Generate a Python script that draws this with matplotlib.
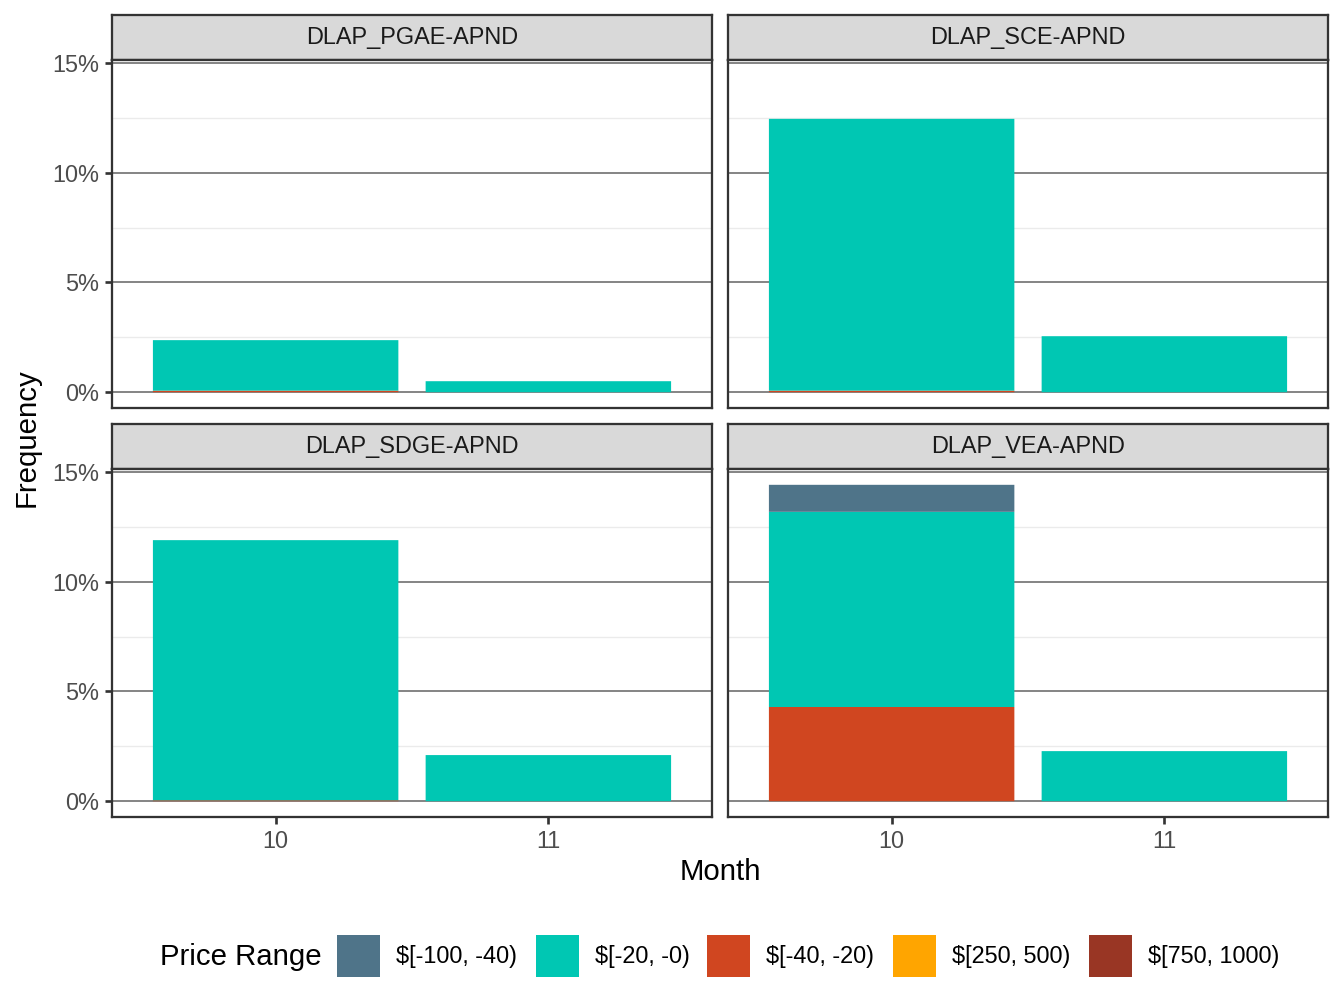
import numpy as np
import matplotlib
matplotlib.use("Agg")
import matplotlib.pyplot as plt
from matplotlib.patches import Rectangle
from matplotlib.ticker import FuncFormatter

plt.rcParams['font.family'] = ['Liberation Sans', 'DejaVu Sans']

# -----------------------
# data (frequency in %)
# -----------------------
nodes = ['DLAP_PGAE-APND', 'DLAP_SCE-APND', 'DLAP_SDGE-APND', 'DLAP_VEA-APND']
months = [10, 11]
levels = [r'\$[-100, -40)', r'\$[-20, -0)', r'\$[-40, -20)', r'\$[250, 500)', r'\$[750, 1000)']
colors = ['#4F7489', '#00C7B3', '#D04620', '#FFA500', '#993624']

# one row per node, columns = month 10, 11
freq_m100_m40 = [[0.00, 0.00], [0.00, 0.00], [0.00, 0.00], [1.23, 0.00]]
freq_m20_m0 = [[2.30, 0.50], [12.38, 2.55], [11.85, 2.10], [8.89, 2.28]]
freq_m40_m20 = [[0.07, 0.00], [0.07, 0.00], [0.04, 0.00], [4.29, 0.00]]
freq_250_500 = [[0.00, 0.00], [0.00, 0.00], [0.00, 0.00], [0.00, 0.00]]
freq_750_1000 = [[0.00, 0.00], [0.00, 0.00], [0.00, 0.00], [0.00, 0.00]]

series = [freq_m100_m40, freq_m20_m0, freq_m40_m20, freq_250_500, freq_750_1000]

# -----------------------
# figure / layout (pixels of a 1344x1008 canvas)
# -----------------------
W, H = 1344, 1008
fig = plt.figure(figsize=(7, 5.25), dpi=192)

def px_box(l, t, r, b):
    return [l / W, 1 - b / H, (r - l) / W, (b - t) / H]

cols = [(112, 712), (728, 1328)]
rows = [(15, 60, 408), (424, 469, 817)]

lw = 0.85
totals = np.sum(np.array(series), axis=0)
top = totals.max()
ylim = (-0.05 * top, top * 1.05)

for k, node in enumerate(nodes):
    r, c = divmod(k, 2)
    l, rr = cols[c]
    st, pt, pb = rows[r]

    # strip
    sax = fig.add_axes(px_box(l, st, rr, pt))
    sax.set_facecolor('#D9D9D9')
    sax.set_xticks([]); sax.set_yticks([])
    for sp in sax.spines.values():
        sp.set_color('#333333'); sp.set_linewidth(lw)
    sax.text(0.5, 0.5, node, ha='center', va='center', fontsize=8.8,
             color='#1A1A1A', transform=sax.transAxes)

    ax = fig.add_axes(px_box(l, pt, rr, pb))
    ax.set_xlim(9.4, 11.6)
    ax.set_ylim(*ylim)
    ax.set_yticks([0, 5, 10, 15])
    ax.set_yticks([2.5, 7.5, 12.5], minor=True)
    ax.yaxis.set_major_formatter(FuncFormatter(lambda v, p: f'{v:.0f}%'))
    ax.grid(True, axis='y', which='major', color='#7F7F7F', linewidth=0.7)
    ax.grid(True, axis='y', which='minor', color='#EBEBEB', linewidth=0.5)
    ax.set_axisbelow(True)
    ax.tick_params(axis='y', which='minor', length=0)
    ax.tick_params(axis='both', which='major', length=2.75, width=1.0,
                   color='#333333', labelcolor='#4D4D4D', labelsize=8.8, pad=2.2)
    for sp in ax.spines.values():
        sp.set_color('#333333'); sp.set_linewidth(lw)

    # stacked bars: last level at the bottom
    bottom = np.zeros(len(months))
    for j in reversed(range(len(levels))):
        vals = np.array(series[j][k])
        ax.bar(months, vals, width=0.9, bottom=bottom, color=colors[j],
               linewidth=0, snap=False)
        bottom += vals

    ax.set_xticks(months)
    if r == 0:
        ax.tick_params(axis='x', labelbottom=False, length=0)
    if c == 1:
        ax.tick_params(axis='y', labelleft=False, length=0)

fig.text(720 / W, 1 - 872 / H, 'Month', ha='center', va='center', fontsize=11)
fig.text(27 / W, 1 - 438 / H, 'Frequency', ha='center', va='center', fontsize=11, rotation=90)

# legend at the bottom
fig.text(160 / W, 1 - 957 / H, 'Price Range', ha='left', va='center', fontsize=11)
key_x = [337, 536, 707, 893, 1089]
for j, lab in enumerate(levels):
    x0 = key_x[j]
    fig.patches.append(Rectangle((x0 / W, 1 - 977 / H), 43 / W, 42 / H,
                                 transform=fig.transFigure, color=colors[j], linewidth=0))
    fig.text((x0 + 59) / W, 1 - 957 / H, lab, ha='left', va='center', fontsize=8.8)

fig.savefig('out.png', dpi=192)
